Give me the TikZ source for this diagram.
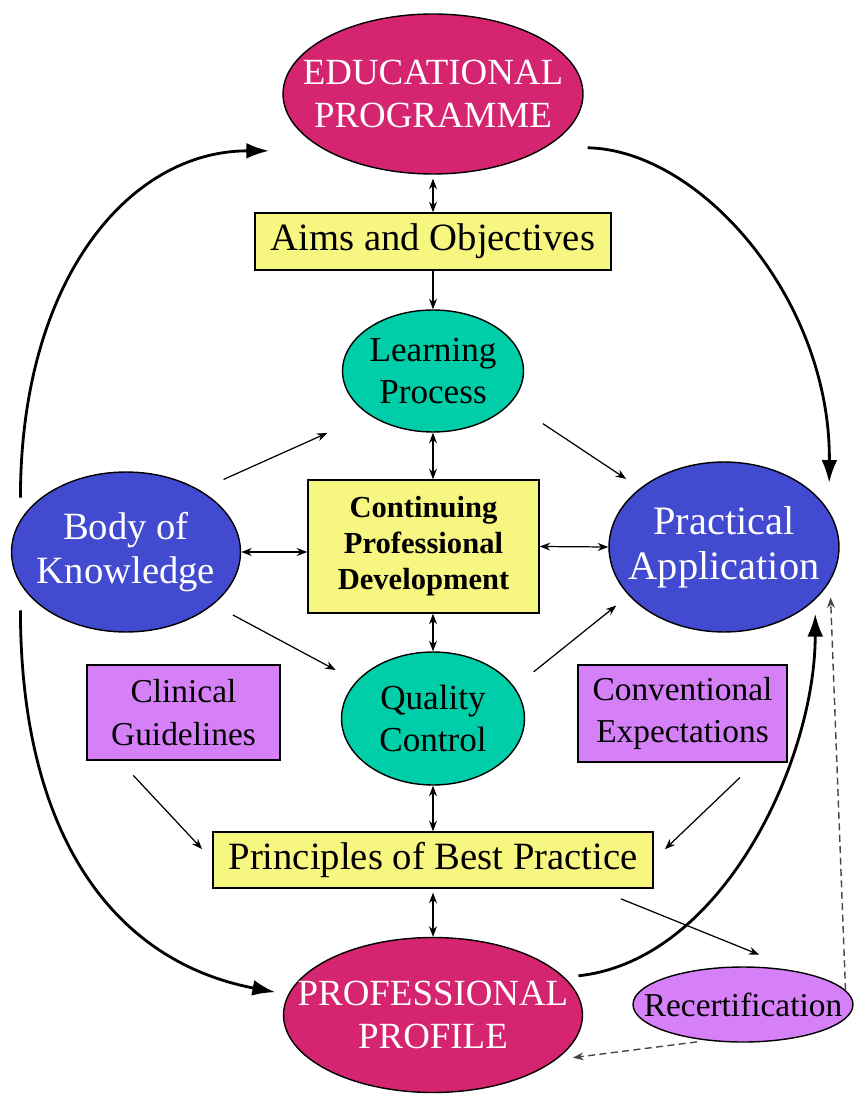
\documentclass[tikz,border=0pt]{standalone}
\usepackage{fontspec}
\setmainfont{Liberation Serif}
\usetikzlibrary{shapes.geometric,arrows.meta}

\definecolor{profpink}{RGB}{214,37,112}
\definecolor{knowblue}{RGB}{66,74,208}
\definecolor{procgreen}{RGB}{0,206,168}
\definecolor{aimyellow}{RGB}{246,246,128}
\definecolor{guidelilac}{RGB}{214,128,248}

\tikzset{
    >={Stealth[length=6pt,width=4.5pt]},
    oval/.style={ellipse, draw, line width=0.8pt, inner sep=0pt},
    panel/.style={rectangle, draw, line width=0.8pt, align=center, inner sep=0pt},
    ovaltext/.style={align=center, inner sep=0pt},
    link/.style={line width=0.7pt},
    bigarrow/.style={line width=1.6pt, -{Latex[length=13pt,width=9pt]}},
    dasharrow/.style={line width=0.8pt, dash pattern=on 4pt off 2.5pt, gray!55!black, ->}
}

\begin{document}
\begin{tikzpicture}[x=0.02cm,y=-0.02cm]
\useasboundingbox (0,0) rectangle (853,1097);

\node[oval, fill=profpink, minimum width=6cm, minimum height=3.2cm] (edu) at (433,94) {};
\node[ovaltext, text=white, font=\fontsize{21}{24}\selectfont] (edutext) at (edu) {EDUCATIONAL\\PROGRAMME};
\node[panel, fill=aimyellow, minimum width=7.12cm, minimum height=1.14cm, font=\fontsize{22}{24}\selectfont] (aims) at (433,241.5) {Aims and Objectives};
\node[oval, fill=procgreen, minimum width=3.62cm, minimum height=2.44cm] (lp) at (433,371) {};
\node[ovaltext, font=\fontsize{20}{24}\selectfont] (lptext) at (lp) {Learning\\Process};
\node[panel, fill=aimyellow, minimum width=4.62cm, minimum height=2.66cm, font=\fontsize{17.4}{20.5}\selectfont\bfseries] (cpd) at (423.5,546.5) {Continuing\\Professional\\Development};
\node[oval, fill=knowblue, minimum width=4.58cm, minimum height=3.2cm] (bok) at (126,552) {};
\node[ovaltext, text=white, font=\fontsize{22}{25.5}\selectfont] (boktext) at (bok) {Body of\\Knowledge};
\node[oval, fill=knowblue, minimum width=4.6cm, minimum height=3.4cm] (pa) at (724,547) {};
\node[ovaltext, text=white, font=\fontsize{23}{25.5}\selectfont] (patext) at (pa) {Practical\\Application};
\node[oval, fill=procgreen, minimum width=3.66cm, minimum height=2.66cm] (qc) at (433,718.5) {};
\node[ovaltext, font=\fontsize{20}{24}\selectfont] (qctext) at (qc) {Quality\\Control};
\node[panel, fill=guidelilac, minimum width=3.86cm, minimum height=1.9cm, font=\fontsize{19}{24}\selectfont] (cg) at (183.5,712.5) {Clinical\\Guidelines};
\node[panel, fill=guidelilac, minimum width=4.18cm, minimum height=1.94cm, font=\fontsize{19}{24}\selectfont] (ce) at (682.5,713.5) {Conventional\\Expectations};
\node[panel, fill=aimyellow, minimum width=8.8cm, minimum height=1.12cm, font=\fontsize{22}{24}\selectfont] (pbp) at (433,860) {Principles of Best Practice};
\node[oval, fill=profpink, minimum width=5.98cm, minimum height=3.1cm] (pp) at (433,1015) {};
\node[ovaltext, text=white, font=\fontsize{21}{24}\selectfont] (pptext) at (pp) {PROFESSIONAL\\PROFILE};
\node[oval, fill=guidelilac, minimum width=4.4cm, minimum height=1.5cm] (rec) at (743,1004.5) {};
\node[ovaltext, font=\fontsize{19}{22}\selectfont] (rectext) at (rec) {Recertification};

\draw[link, <->, shorten <=0.08cm] (edu.south) -- (aims.north);
\draw[link, ->] (aims.south) -- (lp.north);
\draw[link, <->] (lp.south) -- (lp.south |- cpd.north);
\draw[link, <->] (qc.north |- cpd.south) -- (qc.north);
\draw[link, <->] (qc.south) -- (pbp.north);
\draw[link, <->, shorten <=0.08cm] (pbp.south) -- (pp.north);
\draw[link, <->] (bok.east) -- (bok.east -| cpd.west);
\draw[link, <->] (cpd.east) -- (pa.west);

\draw[link, ->, shorten <=0.52cm, shorten >=0.9cm] (bok.40) -- (lp.214);
\draw[link, ->, shorten <=0.76cm, shorten >=0.33cm] (lp.338) -- (pa.145);
\draw[link, ->, shorten <=0.44cm, shorten >=0.47cm] (bok.329) -- (qc.154);
\draw[link, ->, shorten <=0.49cm, shorten >=0.32cm] (qc.21) -- (pa.207);
\draw[link, ->, shorten <=0.4cm, shorten >=0.3cm] (cg.217) -- (pbp.west);
\draw[link, ->, shorten <=0.43cm, shorten >=0.31cm] (ce.326) -- (pbp.east);
\draw[link, ->, shorten <=0.54cm, shorten >=0.95cm] (pbp.350) -- (rec.28);

\draw[bigarrow, shorten <=0.44cm, shorten >=1.14cm] (bok.163) .. controls +(0,-240) and +(-197,0) .. (edu.208);
\draw[bigarrow, shorten <=0.82cm, shorten >=0.56cm] (edu.335) .. controls +(154,3) and +(2,-211) .. (pa.19);
\draw[bigarrow, shorten <=0.52cm, shorten >=0.26cm] (bok.197) .. controls +(0,246) and +(-178,-34) .. (pp.172);
\draw[bigarrow, shorten <=0.28cm, shorten >=0.28cm] (pp.16) .. controls +(158,-17) and +(0,161) .. (pa.330);

\draw[dasharrow, shorten >=0.32cm] (rec.8) -- (pa.342);
\draw[dasharrow, shorten <=0.2cm, shorten >=0.34cm] (rec.225) -- (pp.340);
\end{tikzpicture}
\end{document}
